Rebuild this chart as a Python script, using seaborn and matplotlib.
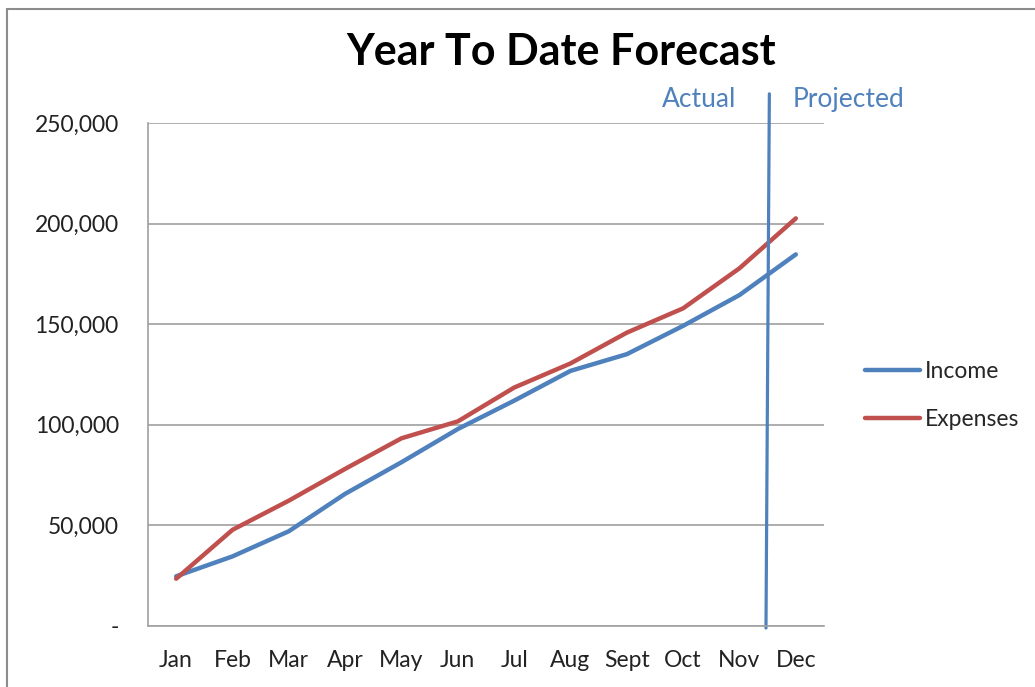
import matplotlib
matplotlib.use('Agg')
import matplotlib.pyplot as plt
import matplotlib.patches as patches
import numpy as np
import pandas as pd
import seaborn as sns

# dados
meses = ['Jan', 'Feb', 'Mar', 'Apr', 'May', 'Jun', 'Jul', 'Aug', 'Sept', 'Oct', 'Nov', 'Dec']
income = [24700, 34600, 47100, 65700, 81400, 97900, 112000, 126800, 135100, 149200, 164500, 184700]
expenses = [23500, 47800, 62300, 78100, 93300, 101700, 118500, 130500, 145800, 157900, 177800, 202600]
y_ticks = [0, 50000, 100000, 150000, 200000, 250000]
y_labels = ['-', '50,000', '100,000', '150,000', '200,000', '250,000']

azul = '#4F81BD'
vermelho = '#C0504D'

df = pd.DataFrame({'Mes': meses * 2,
                   'Valor': income + expenses,
                   'Serie': ['Income'] * len(meses) + ['Expenses'] * len(meses)})
df['pos'] = list(range(len(meses))) * 2

sns.set_style('white')
plt.rcParams['font.family'] = ['Lato', 'DejaVu Sans']

fig = plt.figure(figsize=(10.35, 6.87), dpi=100)
ax = fig.add_axes([148 / 1035, 1 - 626 / 687, (824 - 148) / 1035, (626 - 123) / 687])

# moldura da área do gráfico
fig.patches.append(patches.Rectangle((7 / 1035, -0.05), 1.1, 1 - 9 / 687 + 0.05,
                                     transform=fig.transFigure, fill=False,
                                     edgecolor='#8c8c8c', linewidth=1.5))

sns.lineplot(data=df, x='pos', y='Valor', hue='Serie', palette=[azul, vermelho],
             linewidth=3.2, ax=ax, legend=True)

ax.set_xlim(-0.5, len(meses) - 0.5)
ax.set_ylim(0, 250000)
ax.set_xticks(range(len(meses)))
ax.set_xticklabels(meses, fontsize=16.5, color='#222222')
ax.set_yticks(y_ticks)
ax.set_yticklabels(y_labels, fontsize=16.5, color='#222222')
ax.tick_params(axis='x', pad=17, length=0)
ax.tick_params(axis='y', pad=21, length=0)
ax.set_xlabel('')
ax.set_ylabel('')
ax.grid(axis='y', color='#a0a0a0', linewidth=1.2)
ax.grid(axis='x', visible=False)
for lado in ['top', 'right']:
    ax.spines[lado].set_visible(False)
for lado in ['left', 'bottom']:
    ax.spines[lado].set_color('#a0a0a0')
    ax.spines[lado].set_linewidth(1.2)

# linha divisória actual / projected
ax.plot([10.53, 10.47], [264500, -1000], color=azul, linewidth=2.3, clip_on=False)
ax.text(9.29, 258000, 'Actual', color=azul, fontsize=19, ha='center', va='baseline')
ax.text(11.93, 258000, 'Projected', color=azul, fontsize=19, ha='center', va='baseline')

fig.text(561 / 1035, 1 - 65 / 687, 'Year To Date Forecast', fontsize=31, fontweight='bold',
         ha='center', va='baseline', color='black')

leg = ax.legend(loc='center left', bbox_to_anchor=(1.03, 0.458), frameon=False,
                fontsize=16.5, handlelength=2.4, handletextpad=0.2, labelspacing=1.2)
for linha in leg.get_lines():
    linha.set_linewidth(3.2)

fig.savefig('out.png', dpi=100)
